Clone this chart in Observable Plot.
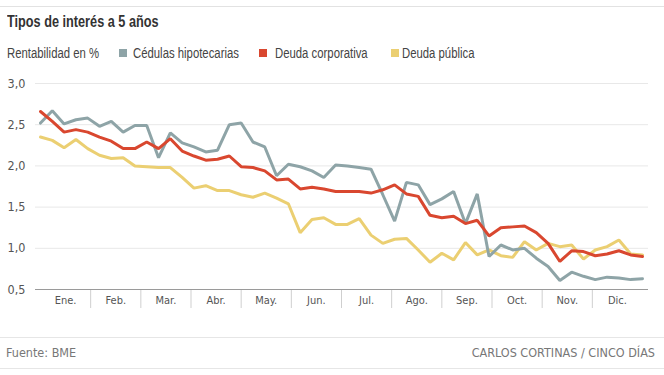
<!DOCTYPE html>
<html>
<head>
<meta charset="utf-8">
<script src="https://cdn.jsdelivr.net/npm/d3@7"></script>
<script src="https://cdn.jsdelivr.net/npm/@observablehq/plot@0.6"></script>
<style>
  html, body { margin: 0; padding: 0; background: #fff; }
  body { width: 664px; height: 375px; position: relative; overflow: hidden;
         font-family: "DejaVu Sans Condensed", sans-serif; }
  #topline { position: absolute; left: 0; top: 6px; width: 664px; height: 1px; background: #e2e2e2; }
  .cond { position: absolute; white-space: nowrap; font-family: "Liberation Sans", Arial, sans-serif;
          transform-origin: 0 50%; }
  #title { left: 7px; top: 12px; font-size: 16.5px; font-weight: bold; color: #333; transform: scaleX(0.77); }
  .leg { top: 45px; font-size: 14px; color: #444; transform: scaleX(0.81); line-height: 16px; }
  .sw { position: absolute; top: 49px; width: 8px; height: 8px; }
  #chart { position: absolute; left: 0; top: 70px; }
  #footline1 { position: absolute; left: 0; top: 337px; width: 664px; height: 1px; background: #e6e6e6; }
  #footline2 { position: absolute; left: 0; top: 368px; width: 664px; height: 1px; background: #e6e6e6; }
  #source { position: absolute; left: 6px; top: 345px; font-size: 12.5px; color: #777; }
  #credit { position: absolute; right: 9px; top: 345px; font-size: 12.5px; color: #777; }
</style>
</head>
<body>
<div id="topline"></div>
<div id="title" class="cond">Tipos de interés a 5 años</div>
<div id="legend"></div>
<div id="chart"></div>
<div id="footline1"></div>
<div id="footline2"></div>
<div id="source">Fuente: BME</div>
<div id="credit">CARLOS CORTINAS / CINCO DÍAS</div>
<script>
const months = ["Ene.", "Feb.", "Mar.", "Abr.", "May.", "Jun.", "Jul.", "Ago.", "Sep.", "Oct.", "Nov.", "Dic."];
const unitLabel = "Rentabilidad en %";
const seriesNames = ["Cédulas hipotecarias", "Deuda corporativa", "Deuda pública"];
const seriesColors = ["#8ea4a7", "#d9472f", "#ebcf72"];
const yTicks = [0.5, 1.0, 1.5, 2.0, 2.5, 3.0];

// weekly observations (52 weeks)
const cedulas = [2.52,2.67,2.51,2.56,2.58,2.48,2.54,2.41,2.49,2.49,
                 2.10,2.40,2.28,2.23,2.17,2.19,2.50,2.52,2.29,2.23,
                 1.88,2.02,1.99,1.94,1.86,2.01,2.00,1.98,1.96,1.65,
                 1.33,1.80,1.77,1.53,1.60,1.69,1.30,1.66,0.90,1.04,
                 0.98,1.00,0.88,0.78,0.61,0.71,0.66,0.62,0.65,0.64,
                 0.62,0.63];
const corporativa = [2.66,2.54,2.41,2.44,2.41,2.35,2.30,2.21,2.21,2.29,
                     2.21,2.33,2.18,2.12,2.07,2.08,2.12,1.99,1.98,1.94,
                     1.83,1.84,1.72,1.74,1.72,1.69,1.69,1.69,1.67,1.71,
                     1.77,1.66,1.63,1.40,1.37,1.39,1.30,1.34,1.15,1.25,
                     1.26,1.27,1.19,1.06,0.84,0.97,0.96,0.91,0.93,0.97,
                     0.92,0.90];
const publica = [2.35,2.31,2.22,2.32,2.21,2.13,2.09,2.10,2.00,1.99,
                 1.98,1.98,1.86,1.73,1.76,1.70,1.70,1.65,1.62,1.67,
                 1.61,1.54,1.19,1.35,1.37,1.29,1.29,1.36,1.16,1.06,
                 1.11,1.12,0.98,0.83,0.94,0.86,1.07,0.92,0.98,0.91,
                 0.89,1.08,0.98,1.06,1.02,1.04,0.87,0.98,1.02,1.10,
                 0.93,0.92];

const seriesValues = [cedulas, corporativa, publica];
const nWeeks = cedulas.length;
const lastWeek = nWeeks - 1;

// legend (HTML)
const legend = document.getElementById("legend");
const swatchLeft = [119, 259, 391];
const textLeft = [133, 275, 402];
let html = `<div class="cond leg" style="left:7px">${unitLabel}</div>`;
seriesNames.forEach((n, i) => {
  html += `<div class="sw" style="left:${swatchLeft[i]}px;background:${seriesColors[i]}"></div>`;
  html += `<div class="cond leg" style="left:${textLeft[i]}px">${n}</div>`;
});
legend.innerHTML = html;

const table = [];
seriesNames.forEach((name, s) => seriesValues[s].forEach((v, i) => table.push({series: name, week: i, value: v})));

const monthBounds = d3.range(1, months.length).map(m => m * lastWeek / months.length);
const monthCenters = months.map((_, m) => (m + 0.5) * lastWeek / months.length);

const drawOrder = [2, 0, 1];

const chart = Plot.plot({
  width: 664,
  height: 250,
  marginTop: 13,
  marginBottom: 31,
  marginLeft: 35,
  marginRight: 16,
  style: {fontFamily: '"DejaVu Sans Condensed", sans-serif', background: "transparent"},
  x: {domain: [0, lastWeek], insetLeft: 5, insetRight: 6},
  y: {domain: [0.5, 3.0]},
  marks: [
    Plot.gridY(yTicks.filter(t => t > 0.5), {stroke: "#e8e8e8", strokeOpacity: 1}),
    Plot.axisY(yTicks, {tickSize: 0, tickPadding: 10, fontSize: 12.5, fill: "#555", tickFormat: d => d.toFixed(1).replace(".", ","), label: null}),
    Plot.axisX(monthBounds, {tickSize: 19, stroke: "#cfcfcf", tickFormat: () => "", label: null}),
    Plot.axisX(monthCenters, {tickSize: 0, tickPadding: 7, fontSize: 11, fill: "#555", tickFormat: (d, i) => months[i], label: null}),
    ...drawOrder.map(s => Plot.line(table.filter(d => d.series === seriesNames[s]), {
      x: "week", y: "value", stroke: seriesColors[s], strokeWidth: 3, strokeLinejoin: "miter"
    })),
    Plot.ruleY([0.5], {stroke: "#9a9a9a", strokeWidth: 1})
  ]
});
document.getElementById("chart").appendChild(chart);
</script>
</body>
</html>
